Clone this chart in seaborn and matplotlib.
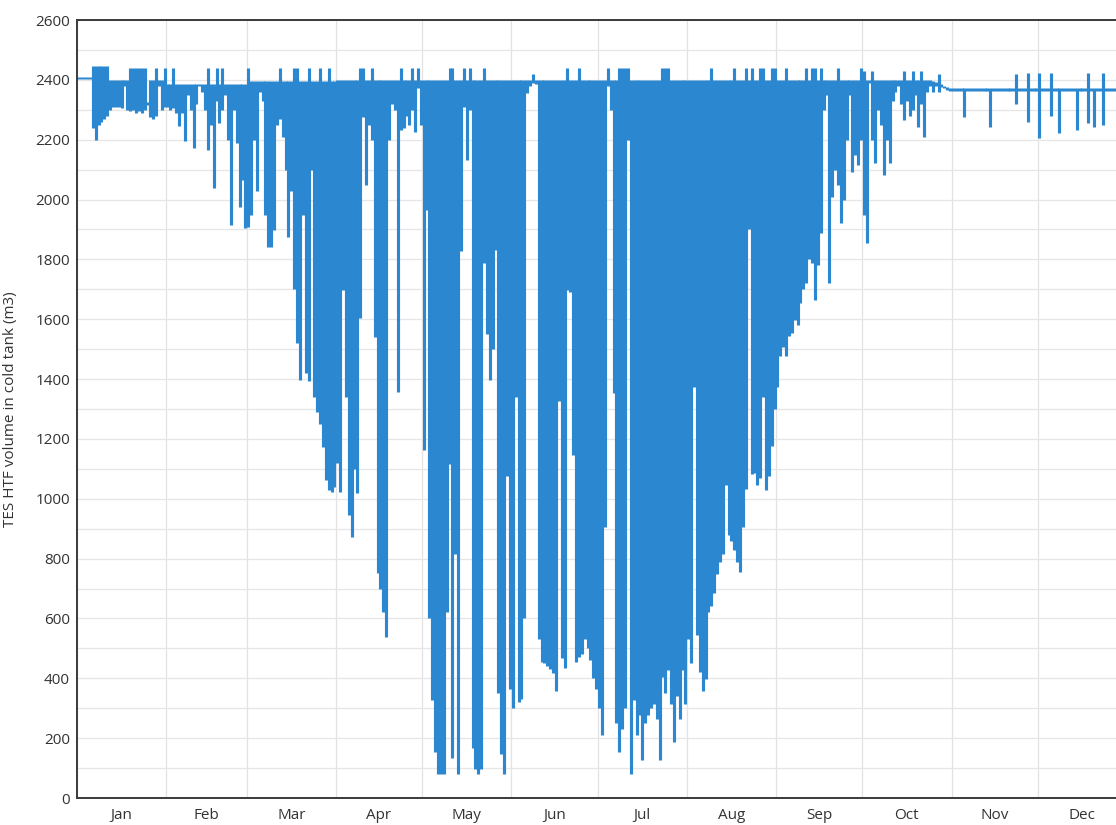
import numpy as np
import pandas as pd
import matplotlib
matplotlib.use("Agg")
import matplotlib.pyplot as plt
import seaborn as sns
from matplotlib.ticker import MultipleLocator

# ---------------- data ----------------
months = ["Jan", "Feb", "Mar", "Apr", "May", "Jun",
          "Jul", "Aug", "Sep", "Oct", "Nov", "Dec"]
month_lengths = [31, 28, 31, 30, 31, 30, 31, 31, 30, 31, 30, 31]
y_label = "TES HTF volume in cold tank (m3)"

# daily minimum / maximum of the cold-tank volume (m3)
jan_min = [2402, 2402, 2402, 2402, 2402, 2240, 2200, 2250, 2260, 2270, 2280,
           2300, 2310, 2310, 2310, 2305, 2380, 2300, 2295, 2300, 2290, 2295,
           2290, 2300, 2315, 2275, 2270, 2280, 2380, 2300, 2310]
jan_max = [2410, 2410, 2410, 2410, 2410, 2445, 2445, 2445, 2445, 2445, 2445,
           2400, 2400, 2400, 2400, 2400, 2400, 2400, 2440, 2440, 2440, 2440,
           2440, 2440, 2325, 2400, 2400, 2440, 2400, 2400, 2440]
feb_min = [2310, 2300, 2305, 2290, 2245, 2290, 2195, 2350, 2300, 2172, 2320,
           2380, 2360, 2300, 2166, 2250, 2040, 2330, 2256, 2300, 2350, 2200,
           1915, 2300, 2190, 1975, 2065, 1905]
feb_max = [2385, 2385, 2440, 2385, 2385, 2385, 2385, 2385, 2385, 2385, 2385,
           2385, 2385, 2385, 2440, 2385, 2385, 2440, 2385, 2440, 2385, 2385,
           2385, 2385, 2385, 2385, 2385, 2385]
mar_min = [1908, 1948, 2200, 2030, 2360, 2330, 1950, 1842, 1840, 1898, 2250,
           2270, 2210, 2100, 1876, 2030, 1700, 1520, 1397, 1950, 1420, 1395,
           2100, 1340, 1290, 1250, 1173, 1063, 1030, 1023, 1040]
mar_max = [2440, 2395, 2395, 2395, 2395, 2395, 2395, 2395, 2395, 2395, 2395,
           2440, 2395, 2395, 2395, 2395, 2440, 2440, 2395, 2395, 2395, 2440,
           2395, 2395, 2395, 2440, 2395, 2395, 2440, 2395, 2395]
apr_min = [1120, 1023, 1698, 1340, 945, 872, 1100, 1019, 1604, 2276, 2050,
           2250, 2200, 1540, 752, 700, 620, 538, 2200, 2320, 2300, 1357, 2233,
           2240, 2280, 2250, 2300, 2225, 2373, 2250]
apr_max = [2400, 2400, 2400, 2400, 2400, 2400, 2400, 2400, 2440, 2440, 2400,
           2400, 2440, 2400, 2400, 2400, 2400, 2400, 2400, 2400, 2400, 2400,
           2440, 2400, 2400, 2400, 2440, 2400, 2440, 2400]
may_min = [1163, 1965, 600, 327, 154, 80, 80, 80, 622, 1115, 135, 814, 80,
           1827, 2310, 2132, 2300, 166, 96, 80, 96, 1788, 1551, 1397, 1500,
           1833, 352, 147, 80, 1077, 365]
may_max = [2400, 2400, 2400, 2400, 2400, 2400, 2400, 2400, 2400, 2440, 2440,
           2400, 2400, 2400, 2440, 2400, 2440, 2400, 2400, 2400, 2400, 2440,
           2400, 2400, 2400, 2400, 2400, 2400, 2400, 2400, 2400]
jun_min = [301, 1340, 320, 330, 600, 2356, 2380, 2390, 2385, 532, 455, 450,
           442, 430, 417, 359, 1327, 468, 436, 1699, 1692, 1147, 455, 470, 481,
           532, 500, 461, 400, 365]
jun_max = [2400, 2400, 2400, 2400, 2400, 2398, 2398, 2420, 2398, 2400, 2400,
           2400, 2400, 2400, 2400, 2400, 2400, 2400, 2400, 2440, 2400, 2400,
           2400, 2440, 2400, 2400, 2400, 2400, 2400, 2400]
jul_min = [300, 211, 904, 2380, 2300, 1352, 250, 154, 230, 300, 2200, 80, 327,
           211, 276, 128, 250, 276, 300, 314, 263, 128, 404, 350, 429, 314,
           186, 340, 263, 429, 314]
jul_max = [2400, 2400, 2400, 2440, 2400, 2400, 2400, 2440, 2440, 2440, 2440,
           2400, 2400, 2400, 2400, 2400, 2400, 2400, 2400, 2400, 2400, 2400,
           2440, 2440, 2440, 2400, 2400, 2400, 2400, 2400, 2400]
aug_min = [532, 450, 1372, 545, 420, 359, 397, 622, 641, 686, 750, 788, 814,
           1045, 880, 860, 830, 790, 756, 904, 1032, 1900, 1083, 1086, 1047,
           1070, 1340, 1030, 1075, 1175, 1300]
aug_max = [2400, 2400, 2400, 2400, 2400, 2400, 2400, 2400, 2440, 2400, 2400,
           2400, 2400, 2400, 2400, 2400, 2440, 2400, 2400, 2400, 2440, 2400,
           2440, 2400, 2400, 2440, 2440, 2400, 2400, 2440, 2440]
sep_min = [1375, 1476, 1506, 1476, 1545, 1553, 1598, 1581, 1654, 1700, 1720,
           1800, 1787, 1665, 1780, 1888, 2300, 2350, 1720, 2010, 2099, 2050,
           1921, 1999, 2200, 2350, 2093, 2150, 2115, 2200]
sep_max = [2400, 2400, 2400, 2440, 2400, 2400, 2400, 2400, 2400, 2400, 2440,
           2400, 2440, 2440, 2400, 2440, 2400, 2400, 2400, 2400, 2400, 2440,
           2400, 2400, 2400, 2400, 2400, 2400, 2400, 2440]
oct_min = [1950, 1854, 2390, 2200, 2121, 2300, 2250, 2082, 2200, 2121, 2330,
           2360, 2380, 2320, 2266, 2330, 2280, 2300, 2350, 2243, 2320, 2210,
           2360, 2380, 2360, 2380, 2360, 2377, 2372, 2367, 2364]
oct_max = [2430, 2398, 2398, 2430, 2398, 2398, 2398, 2398, 2398, 2398, 2398,
           2398, 2398, 2398, 2430, 2398, 2398, 2430, 2398, 2398, 2430, 2398,
           2398, 2398, 2395, 2392, 2420, 2385, 2380, 2375, 2372]
nov_min = [2364, 2364, 2364, 2364, 2276, 2364, 2364, 2364, 2364, 2364, 2364,
           2364, 2364, 2243, 2364, 2364, 2364, 2364, 2364, 2364, 2364, 2364,
           2320, 2364, 2364, 2364, 2260, 2364, 2364, 2364]
nov_max = [2372, 2372, 2372, 2372, 2372, 2372, 2372, 2372, 2372, 2372, 2372,
           2372, 2372, 2372, 2372, 2372, 2372, 2372, 2372, 2372, 2372, 2372,
           2420, 2372, 2372, 2372, 2424, 2372, 2372, 2372]
dec_min = [2206, 2364, 2364, 2364, 2280, 2364, 2364, 2222, 2364, 2364, 2364,
           2364, 2364, 2233, 2364, 2364, 2364, 2255, 2364, 2243, 2364, 2364,
           2250, 2364, 2364, 2364, 2364, 2364, 2364, 2364, 2364]
dec_max = [2424, 2372, 2372, 2372, 2424, 2372, 2372, 2372, 2372, 2372, 2372,
           2372, 2372, 2372, 2372, 2372, 2372, 2424, 2372, 2372, 2372, 2372,
           2424, 2372, 2372, 2372, 2372, 2372, 2372, 2372, 2372]

daily_min = (jan_min + feb_min + mar_min + apr_min + may_min + jun_min +
             jul_min + aug_min + sep_min + oct_min + nov_min + dec_min)
daily_max = (jan_max + feb_max + mar_max + apr_max + may_max + jun_max +
             jul_max + aug_max + sep_max + oct_max + nov_max + dec_max)

# ---------------- table for seaborn ----------------
n_days = len(daily_min)
day_index = np.arange(n_days)
df = pd.DataFrame({
    "day": np.repeat(day_index + 0.5, 2),
    "volume": np.column_stack([daily_min, daily_max]).ravel(),
    "unit": np.repeat(day_index, 2),
})

month_bounds = np.concatenate([[0], np.cumsum(month_lengths)])
month_mids = (month_bounds[:-1] + month_bounds[1:]) / 2

# ---------------- figure ----------------
sns.set_style("white")
plt.rcParams["font.family"] = ["Open Sans", "DejaVu Sans"]

W, H = 1116, 825
fig = plt.figure(figsize=(W / 100, H / 100), dpi=100)
ax = fig.add_axes([77 / W, 27 / H, (1127 - 77) / W, 778 / H])

line_color = "#2b88d0"
sns.lineplot(data=df, x="day", y="volume", units="unit", estimator=None,
             color=line_color, linewidth=2.25, solid_capstyle="butt",
             sort=False, legend=False, ax=ax)

ax.set_xlim(0, 365)
ax.set_ylim(0, 2600)

# x axis: ticks at month boundaries, labels centred in months
ax.set_xticks(month_bounds)
ax.set_xticklabels([""] * len(month_bounds))
ax.set_xticks(month_mids, minor=True)
ax.set_xticklabels(months, minor=True)
ax.tick_params(axis="x", which="major", direction="in", length=5, width=1.2,
               color="#333333")
ax.tick_params(axis="x", which="minor", length=0, pad=7, labelsize=11,
               labelcolor="#333333")

# y axis
ax.yaxis.set_major_locator(MultipleLocator(200))
ax.yaxis.set_minor_locator(MultipleLocator(100))
ax.tick_params(axis="y", which="major", direction="out", length=3, width=1.2,
               color="#333333", labelsize=11, labelcolor="#333333", pad=2)
ax.tick_params(axis="y", which="minor", direction="in", length=3, width=1.0,
               color="#333333")

ax.set_xlabel("")
ax.set_ylabel(y_label, fontsize=11, color="#333333")
ax.yaxis.set_label_coords(-0.056, 0.5)

# grid
ax.set_axisbelow(True)
ax.grid(axis="x", which="major", color="#e2e2e2", linewidth=0.9)
ax.grid(axis="y", which="both", color="#e6e6e6", linewidth=0.9)

for side in ["left", "bottom", "top"]:
    ax.spines[side].set_color("#3a3a3a")
    ax.spines[side].set_linewidth(1.4)
    ax.spines[side].set_visible(True)
ax.spines["right"].set_visible(False)

fig.savefig("out.png", dpi=100, facecolor="white")
